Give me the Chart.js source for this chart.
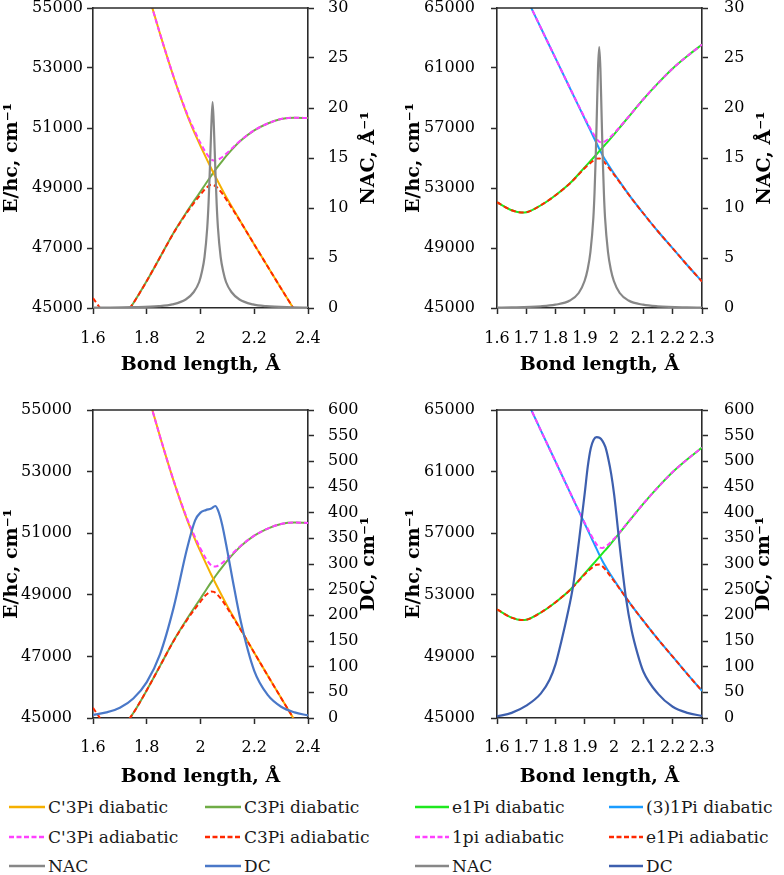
<!DOCTYPE html>
<html>
<head>
<meta charset="utf-8">
<script src="https://cdn.jsdelivr.net/npm/chart.js@4.4.1/dist/chart.umd.min.js"></script>
<style>
html,body{margin:0;padding:0;background:#fff;}
body{width:784px;height:875px;position:relative;overflow:hidden;font-family:"DejaVu Serif",serif;}
canvas{position:absolute;}
.li{position:absolute;height:22px;display:flex;align-items:center;font-size:17px;color:#1a1a1a;white-space:nowrap;line-height:22px;}
.li svg{display:block;margin-right:3px;}
</style>
</head>
<body>
<canvas id="cA" width="392" height="378" style="left:0;top:0"></canvas>
<canvas id="cB" width="392" height="378" style="left:392px;top:0"></canvas>
<canvas id="cC" width="392" height="388" style="left:0;top:400px"></canvas>
<canvas id="cD" width="392" height="388" style="left:392px;top:400px"></canvas>
<div id="legend"></div>
<script>
// ---------- DATA ----------
// Left column: C'3Pi / C3Pi system (bond length in Å, energies in cm-1)
const rA = [1.60,1.626,1.65,1.70,1.75,1.80,1.85,1.90,1.95,1.98,2.00,2.02,2.04,2.05,2.06,2.08,2.10,2.15,2.20,2.25,2.30,2.35,2.40];
const c3piPrimeDia   = [null,null,null,null,57200,55630,54120,52700,51440,50795,50400,50020,49650,49475,49300,48960,48630,47870,47120,46380,45650,44930,44220];
const c3piDia        = [null,null,43900,44550,45160,45900,46700,47510,48220,48620,48880,49150,49410,49535,49660,49890,50110,50580,50920,51150,51300,51345,51330];
const c3piPrimeAdia  = [null,null,null,null,57200,55630,54120,52709,51473,50866,50499,50179,49955,49917,49927,50024,50178,50593,50922,51150,51300,51345,51330];
const c3piAdia       = [45330,45000,null,44550,45160,45900,46700,47501,48187,48554,48781,48991,49105,49093,49033,48826,48562,47857,47118,46380,45650,44930,44220];

const rNacA = [1.60,1.645,1.745,1.845,1.895,1.945,1.975,1.995,2.005,2.015,2.025,2.030,2.035,2.040,2.045,2.050,2.055,2.060,2.065,2.075,2.085,2.095,2.115,2.145,2.195,2.245,2.345,2.40];
const nacA  = [0.03,0.04,0.08,0.18,0.36,0.85,1.6,2.6,3.6,5.1,8.0,10.5,14,18,20.6,18,14,10.5,8.0,5.1,3.6,2.6,1.6,0.85,0.36,0.18,0.07,0.04];

const rDcC = [1.60,1.65,1.70,1.75,1.80,1.85,1.90,1.95,1.98,2.00,2.02,2.04,2.055,2.065,2.08,2.10,2.12,2.15,2.20,2.25,2.30,2.35,2.40];
const dcC  = [6,11,20,38,70,125,215,330,385,400,405,408,413,405,378,325,268,188,92,45,22,11,5];

// Right column: e1Pi / (3)1Pi system
const rB = [1.60,1.65,1.685,1.70,1.75,1.80,1.85,1.90,1.92,1.93,1.94,1.95,1.96,1.97,1.98,2.00,2.02,2.05,2.10,2.15,2.20,2.25,2.30];
const e1piDia   = [52050,51520,51360,51380,51850,52520,53330,54390,54820,55035,55250,55470,55690,55905,56120,56580,57050,57760,58920,59990,60970,61800,62560];
const pi31Dia   = [null,67700,66280,65690,63665,61643,59620,57598,56789,56385,55980,55576,55200,54865,54540,53950,53390,52560,51300,50100,48980,47850,46760];
const pi1Adia   = [null,67700,66280,65690,63665,61643,59628,57657,56921,56576,56273,56072,56038,56127,56268,56650,57080,57768,58920,59990,60970,61800,62560];
const e1piAdia  = [52050,51520,51360,51380,51850,52520,53322,54331,54689,54844,54957,54974,54852,54643,54392,53880,53360,52552,51300,50100,48980,47850,46760];

const rNacB = [1.60,1.649,1.749,1.799,1.849,1.879,1.899,1.909,1.919,1.929,1.933,1.937,1.941,1.945,1.949,1.953,1.957,1.961,1.965,1.969,1.979,1.989,1.999,2.019,2.049,2.099,2.149,2.249,2.30];
const nacB  = [0.04,0.06,0.17,0.33,0.75,1.5,2.7,3.8,5.6,9.0,11.5,15,19.5,24,26.1,24,19.5,15,11.5,9.0,5.6,3.8,2.7,1.5,0.75,0.33,0.17,0.06,0.04];

const rDcD = [1.60,1.65,1.70,1.75,1.78,1.80,1.82,1.84,1.86,1.88,1.90,1.91,1.92,1.93,1.94,1.95,1.96,1.97,1.98,1.99,2.00,2.02,2.04,2.06,2.08,2.10,2.15,2.20,2.25,2.30];
const dcD  = [3,10,24,48,75,105,150,200,258,345,440,490,525,542,547,546,540,528,505,475,435,330,235,170,125,90,47,22,10,4];

// Tick labels
const xTicksA = [1.6,1.8,2,2.2,2.4];
const xTicksB = [1.6,1.7,1.8,1.9,2,2.1,2.2,2.3];
const eTicksA = [45000,47000,49000,51000,53000,55000];
const eTicksB = [45000,49000,53000,57000,61000,65000];
const nacTicks = [0,5,10,15,20,25,30];
const dcTicks = [0,50,100,150,200,250,300,350,400,450,500,550,600];

// Series labels
const labelsLeft  = ["C'3Pi diabatic","C3Pi diabatic","C'3Pi adiabatic","C3Pi adiabatic","NAC","DC"];
const labelsRight = ["e1Pi diabatic","(3)1Pi diabatic","1pi adiabatic","e1Pi adiabatic","NAC","DC"];

// ---------- STYLE ----------
const COL = {
  orange:'#f5b000', green:'#6fac46', magenta:'#ff40ff', red:'#ff2800', gray:'#878787',
  dcL:'#4a78c8', lime:'#1ee81e', sky:'#1a9cff', dcR:'#3d5fae'
};
const DASH = [5,3];
const AX = '#2a2a2a';

Chart.defaults.font.family = '"DejaVu Serif", serif';
Chart.defaults.color = '#000';
Chart.defaults.animation = false;

function pts(xs, ys){ return xs.map((x,i)=>({x:x, y:ys[i]})); }
function ds(label, xs, ys, color, extra){
  return Object.assign({label:label, data:pts(xs,ys), borderColor:color, backgroundColor:color,
    borderWidth:2, pointRadius:0, pointHoverRadius:0, fill:false, cubicInterpolationMode:'monotone',
    spanGaps:false, yAxisID:'y'}, extra||{});
}

const framePlugin = {
  id:'frame',
  afterDraw(chart, args, o){
    const ctx = chart.ctx, a = chart.chartArea;
    ctx.save();
    ctx.strokeStyle = AX; ctx.lineWidth = 1.6;
    ctx.beginPath(); ctx.moveTo(a.left-0.8, a.top); ctx.lineTo(a.right+0.8, a.top); ctx.stroke();
    ctx.translate(a.right + o.offset, (a.top + a.bottom)/2);
    ctx.rotate(-Math.PI/2);
    ctx.font = 'bold 19px "DejaVu Serif", serif';
    ctx.fillStyle = '#000'; ctx.textAlign = 'center'; ctx.textBaseline = 'middle';
    ctx.fillText(o.title, 0, 0);
    ctx.restore();
  }
};

function tickSetter(arr){ return function(s){ s.ticks = arr.map(v=>({value:v})); }; }
const gridCfg = {display:true, drawOnChartArea:false, drawTicks:true, tickLength:6, tickColor:AX, tickWidth:1.5};
const borderCfg = {display:true, color:AX, width:1.6};
function fitY(w){ return function(s){ s.width = w; s.paddingTop = 0; s.paddingBottom = 0; }; }
function fitX(h){ return function(s){ s.height = h; s.paddingLeft = 0; s.paddingRight = 0; }; }

function makeChart(id, p){
  return new Chart(document.getElementById(id), {
    type:'line',
    data:{datasets:p.datasets},
    plugins:[framePlugin],
    options:{
      responsive:false, devicePixelRatio:1, animation:false,
      layout:{padding:{top:p.top, left:0, right:0, bottom:0}},
      plugins:{legend:{display:false}, tooltip:{enabled:false}, frame:{title:p.rtitle, offset:p.rtoff}},
      events:[],
      scales:{
        x:{type:'linear', position:'bottom', min:p.xmin, max:p.xmax,
           afterBuildTicks:tickSetter(p.xticks), afterFit:fitX(p.xh),
           ticks:{autoSkip:false, maxRotation:0, minRotation:0, padding:p.xpad, font:{size:16}, color:'#000', callback:v=>String(v)},
           grid:gridCfg, border:borderCfg,
           title:{display:true, text:'Bond length, Å', color:'#000', font:{size:19, weight:'bold'}, padding:{top:0, bottom:p.xtpad}}},
        y:{type:'linear', position:'left', min:p.ymin, max:p.ymax,
           afterBuildTicks:tickSetter(p.yticks), afterFit:fitY(p.lw),
           ticks:{autoSkip:false, padding:p.lpad, font:{size:16}, color:'#000', callback:v=>String(v)},
           grid:gridCfg, border:borderCfg,
           title:{display:true, text:'E/hc, cm⁻¹', color:'#000', font:{size:19, weight:'bold'}, padding:{top:p.ltpad, bottom:0}}},
        y1:{type:'linear', position:'right', min:0, max:p.rmax,
           afterBuildTicks:tickSetter(p.rticks), afterFit:fitY(p.rw),
           ticks:{autoSkip:false, padding:p.rpad, font:{size:16}, color:'#000', callback:v=>String(v)},
           grid:gridCfg, border:borderCfg, title:{display:false}}
      }
    }
  });
}

const dia = {order:3}, adia = {order:2, borderDash:DASH, borderWidth:2};
const coup = {order:1, yAxisID:'y1', borderWidth:2.2};

function energySetA(){ return [
  ds(labelsLeft[0], rA, c3piPrimeDia, COL.orange, dia),
  ds(labelsLeft[1], rA, c3piDia, COL.green, dia),
  ds(labelsLeft[2], rA, c3piPrimeAdia, COL.magenta, adia),
  ds(labelsLeft[3], rA, c3piAdia, COL.red, adia)
]; }
function energySetB(){ return [
  ds(labelsRight[0], rB, e1piDia, COL.lime, dia),
  ds(labelsRight[1], rB, pi31Dia, COL.sky, dia),
  ds(labelsRight[2], rB, pi1Adia, COL.magenta, adia),
  ds(labelsRight[3], rB, e1piAdia, COL.red, adia)
]; }

makeChart('cA', {datasets:[...energySetA(), ds(labelsLeft[4], rNacA, nacA, COL.gray, coup)],
  top:8, xmin:1.6, xmax:2.4, xticks:xTicksA, xh:70, xpad:15, xtpad:1.6,
  ymin:45000, ymax:55000, yticks:eTicksA, lw:93, lpad:4, ltpad:0.6,
  rmax:30, rticks:nacTicks, rw:84, rpad:14, rtitle:'NAC, Å⁻¹', rtoff:61});
makeChart('cB', {datasets:[...energySetB(), ds(labelsRight[4], rNacB, nacB, COL.gray, coup)],
  top:8, xmin:1.6, xmax:2.3, xticks:xTicksB, xh:70, xpad:15, xtpad:1.6,
  ymin:45000, ymax:65000, yticks:eTicksB, lw:105, lpad:16, ltpad:11,
  rmax:30, rticks:nacTicks, rw:82, rpad:16, rtitle:'NAC, Å⁻¹', rtoff:63});
makeChart('cC', {datasets:[...energySetA(), ds(labelsLeft[5], rDcC, dcC, COL.dcL, coup)],
  top:10, xmin:1.6, xmax:2.4, xticks:xTicksA, xh:70, xpad:14.5, xtpad:0,
  ymin:45000, ymax:55000, yticks:eTicksA, lw:93, lpad:15, ltpad:0.6,
  rmax:600, rticks:dcTicks, rw:84, rpad:14, rtitle:'DC, cm⁻¹', rtoff:61});
makeChart('cD', {datasets:[...energySetB(), ds(labelsRight[5], rDcD, dcD, COL.dcR, coup)],
  top:10, xmin:1.6, xmax:2.3, xticks:xTicksB, xh:70, xpad:14.5, xtpad:0,
  ymin:45000, ymax:65000, yticks:eTicksB, lw:105, lpad:16, ltpad:10.6,
  rmax:600, rticks:dcTicks, rw:82, rpad:16, rtitle:'DC, cm⁻¹', rtoff:62});

// ---------- LEGENDS (HTML, built from the series labels/colours) ----------
const legendItems = [
  {base:9,   colW:196, sw:36, labels:labelsLeft,  colors:[COL.orange,COL.green,COL.magenta,COL.red,COL.gray,COL.dcL]},
  {base:415, colW:194, sw:34, labels:labelsRight, colors:[COL.lime,COL.sky,COL.magenta,COL.red,COL.gray,COL.dcR]}
];
const rowY = [807, 837, 866];
const legend = document.getElementById('legend');
legendItems.forEach(g=>{
  g.labels.forEach((lab,i)=>{
    const col = i % 2, row = Math.floor(i/2);
    const dashed = (i === 2 || i === 3);
    const d = document.createElement('div');
    d.className = 'li';
    d.style.left = (g.base + col*g.colW) + 'px';
    d.style.top = (rowY[row] - 11) + 'px';
    const w = g.sw;
    d.innerHTML = '<svg width="'+w+'" height="6"><line x1="0" y1="3" x2="'+w+'" y2="3" stroke="'+g.colors[i]+'" stroke-width="2.5"'+(dashed?' stroke-dasharray="5,2.5"':'')+'/></svg>';
    const t = document.createElement('span'); t.textContent = lab; d.appendChild(t);
    legend.appendChild(d);
  });
});
</script>
</body>
</html>
